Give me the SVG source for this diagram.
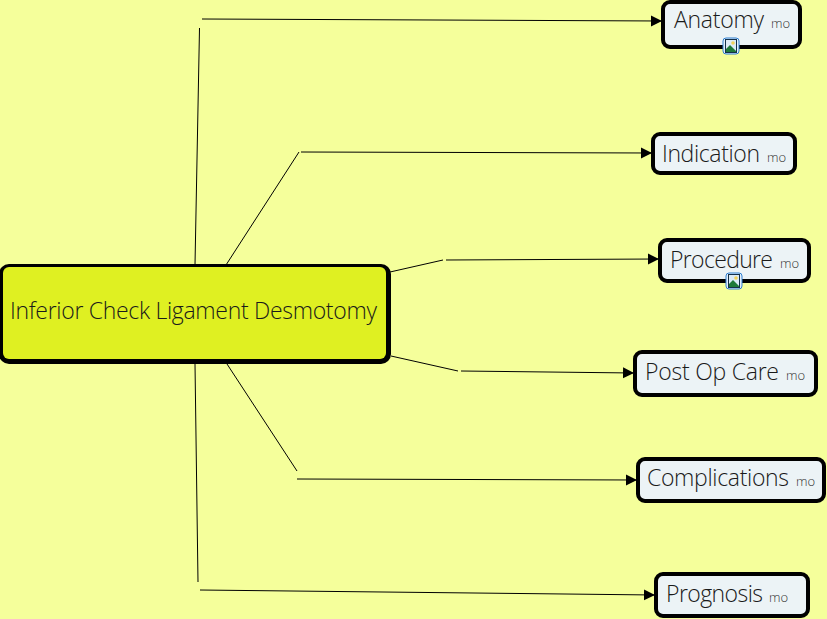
<svg xmlns="http://www.w3.org/2000/svg" width="827" height="619" viewBox="0 0 827 619">
<style>
.c{fill:none;stroke:#000;stroke-width:1}
.n{fill:#ecf3f6;stroke:#000;stroke-width:4}
.t{font-family:"Open Sans","Noto Sans",sans-serif;font-weight:300;font-size:23px;fill:#1a1a1a}
.m{font-family:"Open Sans","Noto Sans",sans-serif;font-weight:300;font-size:13px;fill:#333}
</style>
<defs>
<marker id="a" markerUnits="userSpaceOnUse" markerWidth="12" markerHeight="12" refX="11" refY="6" orient="auto"><path d="M0 0.500L11 6L0 11.500Z" fill="#000"/></marker>
<g id="ic"><rect x="-8" y="-8" width="16" height="16" rx="3" fill="#e3f0fc" stroke="#2f7fd0" stroke-width="1"/><rect x="-5.500" y="-6.500" width="11" height="13" fill="#dcebf7" stroke="#14304a" stroke-width="1"/><circle cx="2" cy="-3" r="1.800" fill="#f3d35a"/><path d="M-5 6L-5 3L-1 -1L5 5L5 6Z" fill="#1f7a3a"/></g>
</defs>
<rect width="827" height="619" fill="#f5ff9b"/>
<g id="connectors">
<path class="c" d="M195 265L199.500 28"/>
<path class="c" d="M202 19L662 21" marker-end="url(#a)"/>
<path class="c" d="M226 265L299 152"/>
<path class="c" d="M301 152L652 153" marker-end="url(#a)"/>
<path class="c" d="M390 272L443 260"/>
<path class="c" d="M446 260L659 259" marker-end="url(#a)"/>
<path class="c" d="M391 356L458 371"/>
<path class="c" d="M461 371L634 373" marker-end="url(#a)"/>
<path class="c" d="M227 364L297 471"/>
<path class="c" d="M297 479L637 480" marker-end="url(#a)"/>
<path class="c" d="M195 364L198 582"/>
<path class="c" d="M200 590L655 595" marker-end="url(#a)"/>
</g>
<g id="root"><rect x="-1" y="264" width="392" height="100" rx="10" fill="#000"/><rect x="3" y="267" width="383" height="92" rx="6" fill="#dff022"/><text class="t" x="10" y="319" textLength="367">Inferior Check Ligament Desmotomy</text></g>
<g id="anatomy"><rect class="n" x="663" y="2" width="137" height="45" rx="7"/><text class="t" x="674" y="28" textLength="90">Anatomy</text><text class="m" x="771" y="28">mo</text><use href="#ic" x="731" y="46"/></g>
<g id="indication"><rect class="n" x="653" y="134" width="142" height="39" rx="7"/><text class="t" x="662" y="162" textLength="98">Indication</text><text class="m" x="767" y="162">mo</text></g>
<g id="procedure"><rect class="n" x="660" y="240" width="149" height="41" rx="7"/><text class="t" x="670" y="268" textLength="103">Procedure</text><text class="m" x="780" y="268">mo</text><use href="#ic" x="734" y="281"/></g>
<g id="postop"><rect class="n" x="635" y="352" width="181" height="43" rx="7"/><text class="t" x="645" y="380" textLength="134">Post Op Care</text><text class="m" x="786" y="380">mo</text></g>
<g id="complications"><rect class="n" x="638" y="459" width="186" height="42" rx="7"/><text class="t" x="647" y="486" textLength="142">Complications</text><text class="m" x="796" y="486">mo</text></g>
<g id="prognosis"><rect class="n" x="656" y="574" width="152" height="42" rx="7"/><text class="t" x="666" y="602" textLength="97">Prognosis</text><text class="m" x="769" y="602">mo</text></g>
</svg>
